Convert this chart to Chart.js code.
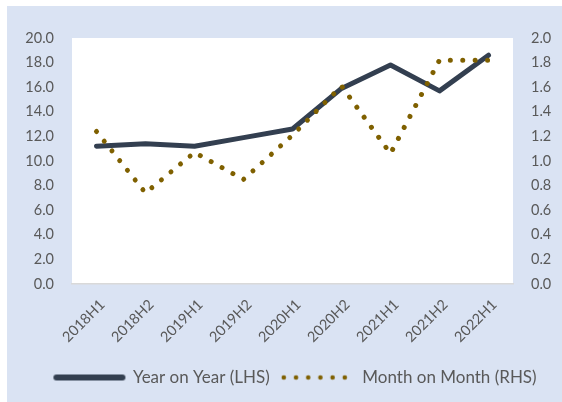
<!DOCTYPE html>
<html><head><meta charset="utf-8">
<script src="https://cdn.jsdelivr.net/npm/chart.js@4.4.1/dist/chart.umd.min.js"></script>
<style>
html,body{margin:0;padding:0;background:#fff;}
#wrap{position:absolute;left:7px;top:6px;width:555px;height:396px;background:#dae3f3;}
canvas{display:block;}
</style></head><body>
<div id="wrap"><canvas id="c" width="555" height="396"></canvas></div>
<script>
// ---- data ----
const categories = ['2018H1','2018H2','2019H1','2019H2','2020H1','2020H2','2021H1','2021H2','2022H1'];
const yoyValues = [11.2, 11.4, 11.2, 11.9, 12.6, 15.9, 17.8, 15.7, 18.6];
const momValues = [1.24, 0.74, 1.07, 0.85, 1.21, 1.61, 1.06, 1.82, 1.82];
const seriesNames = ['Year on Year (LHS)', 'Month on Month (RHS)'];
const leftTickLabels = ['0.0','2.0','4.0','6.0','8.0','10.0','12.0','14.0','16.0','18.0','20.0'];
const rightTickLabels = ['0.0','0.2','0.4','0.6','0.8','1.0','1.2','1.4','1.6','1.8','2.0'];

const YOY_COLOR = '#333f50';
const MOM_COLOR = '#7f6000';
const TEXT_COLOR = '#595959';
const FONT = 'Lato, "Open Sans", sans-serif';

// legend sample images
function lineSample(){
  const c = document.createElement('canvas'); c.width = 74; c.height = 8;
  const x = c.getContext('2d');
  x.strokeStyle = YOY_COLOR; x.lineWidth = 6; x.lineCap = 'round';
  x.beginPath(); x.moveTo(4,4); x.lineTo(70,4); x.stroke();
  return c;
}
function dotSample(){
  const c = document.createElement('canvas'); c.width = 76; c.height = 8;
  const x = c.getContext('2d');
  x.fillStyle = MOM_COLOR;
  for (let i = 0; i < 6; i++){ x.beginPath(); x.arc(3 + i*12.2, 4, 2.3, 0, Math.PI*2); x.fill(); }
  return c;
}
const legendImgs = [lineSample(), dotSample()];

const plotBg = {
  id: 'plotBg',
  beforeDraw(chart){
    const {ctx, chartArea: a} = chart;
    ctx.save(); ctx.fillStyle = '#ffffff';
    ctx.fillRect(a.left, a.top, a.right - a.left, a.bottom - a.top);
    ctx.restore();
  }
};
const legendShift = {
  id: 'legendShift',
  afterLayout(chart){ if (chart.legend) chart.legend.left = 22; }
};

new Chart(document.getElementById('c'), {
  type: 'line',
  data: {
    labels: categories,
    datasets: [
      { label: seriesNames[0], data: yoyValues, yAxisID: 'y', borderColor: YOY_COLOR, backgroundColor: YOY_COLOR,
        borderWidth: 5, borderCapStyle: 'round', borderJoinStyle: 'round', pointRadius: 0, tension: 0, order: 2 },
      { label: seriesNames[1], data: momValues, yAxisID: 'y1', borderColor: MOM_COLOR, backgroundColor: MOM_COLOR,
        borderWidth: 5, borderCapStyle: 'round', borderDash: [0.01, 12.4], pointRadius: 0, tension: 0, order: 1 }
    ]
  },
  options: {
    responsive: false,
    animation: false,
    layout: { padding: { left: 0, right: 0, top: 32, bottom: 6 } },
    plugins: {
      tooltip: { enabled: false },
      legend: {
        position: 'bottom',
        labels: {
          usePointStyle: true,
          pointStyleWidth: 70,
          padding: 14,
          color: TEXT_COLOR,
          font: { family: FONT, size: 17 },
          generateLabels(chart){
            return chart.data.datasets.map((d, i) => ({
              text: d.label, datasetIndex: i, pointStyle: legendImgs[i],
              fillStyle: d.borderColor, strokeStyle: d.borderColor, lineWidth: 0, fontColor: TEXT_COLOR, hidden: false
            }));
          }
        }
      }
    },
    scales: {
      x: {
        offset: true,
        grid: { display: false, drawTicks: false },
        border: { display: true, color: '#d9d9d9', width: 1.5 },
        ticks: { color: TEXT_COLOR, font: { family: FONT, size: 14.5 }, minRotation: 45, maxRotation: 45, padding: 12, labelOffset: 6 },
        afterFit(s){ s.height = 71; }
      },
      y: {
        position: 'left', min: 0, max: 20,
        grid: { display: false, drawTicks: false }, border: { display: false },
        ticks: { stepSize: 2, color: TEXT_COLOR, font: { family: FONT, size: 14.5 }, padding: 18,
          callback: (v, i) => leftTickLabels[i] },
        afterFit(s){ s.width = 65; }
      },
      y1: {
        position: 'right', min: 0, max: 2,
        grid: { display: false, drawTicks: false }, border: { display: false },
        ticks: { stepSize: 0.2, color: TEXT_COLOR, font: { family: FONT, size: 14.5 }, padding: 18,
          callback: (v, i) => rightTickLabels[i] },
        afterFit(s){ s.width = 49; }
      }
    }
  },
  plugins: [plotBg, legendShift]
});
</script>
</body></html>
